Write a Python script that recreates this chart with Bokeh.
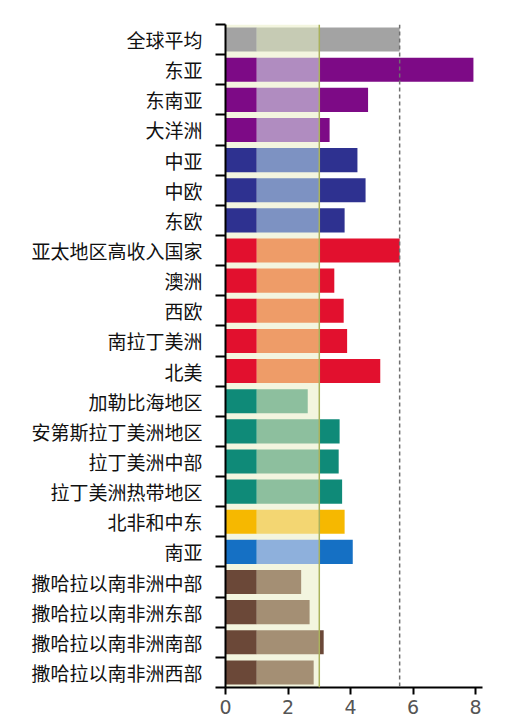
import numpy as np
from bokeh.models import ColumnDataSource, FixedTicker, Range1d, Span, BoxAnnotation
from bokeh.plotting import figure
from bokeh.embed import file_html
from bokeh.resources import INLINE

# regions from top to bottom
regions = ['全球平均', '东亚', '东南亚', '大洋洲', '中亚', '中欧', '东欧',
           '亚太地区高收入国家', '澳洲', '西欧', '南拉丁美洲', '北美',
           '加勒比海地区', '安第斯拉丁美洲地区', '拉丁美洲中部', '拉丁美洲热带地区',
           '北非和中东', '南亚',
           '撒哈拉以南非洲中部', '撒哈拉以南非洲东部', '撒哈拉以南非洲南部', '撒哈拉以南非洲西部']
values = [5.57, 7.93, 4.56, 3.33, 4.22, 4.48, 3.81,
          5.57, 3.48, 3.78, 3.89, 4.95,
          2.63, 3.65, 3.62, 3.73,
          3.81, 4.07,
          2.42, 2.69, 3.14, 2.82]
groups = ['avg', 'purple', 'purple', 'purple', 'navy', 'navy', 'navy',
          'red', 'red', 'red', 'red', 'red',
          'teal', 'teal', 'teal', 'teal',
          'yellow', 'blue',
          'brown', 'brown', 'brown', 'brown']
x_ticks = [0, 2, 4, 6, 8]
global_avg = 5.57
threshold = 3

dark = {'avg': '#a3a3a3', 'purple': '#7d0a86', 'navy': '#2e3190', 'red': '#e2102e',
        'teal': '#0f8a78', 'yellow': '#f6b800', 'blue': '#1570c4', 'brown': '#6b4838'}
light = {'avg': '#c6cbb4', 'purple': '#b08cc0', 'navy': '#7d92c2', 'red': '#ee9c68',
         'teal': '#8dbf9e', 'yellow': '#f3d672', 'blue': '#8eb0dc', 'brown': '#a48f74'}

n = len(regions)
y = [n - i - 0.5 for i in range(n)]
vals = np.array(values)

src = ColumnDataSource(data=dict(
    y=y,
    v=values,
    d_right=np.minimum(vals, 1),
    l_right=np.minimum(vals, threshold),
    h_right=np.maximum(vals, threshold),
    dark=[dark[g] for g in groups],
    light=[light[g] for g in groups],
))

p = figure(width=502, height=720, output_backend="svg", toolbar_location=None,
           x_range=Range1d(0, 8.22), y_range=Range1d(0, n),
           min_border_left=225, min_border_right=20, min_border_top=24,
           min_border_bottom=33)

p.add_layout(BoxAnnotation(left=0, right=threshold, fill_color='#f3f5df',
                           fill_alpha=1, line_color=None, level='underlay'))

p.hbar(y='y', left=0, right='d_right', height=0.8, source=src,
       fill_color='dark', line_color=None)
p.hbar(y='y', left=1, right='l_right', height=0.8, source=src,
       fill_color='light', line_color=None)
p.hbar(y='y', left=threshold, right='h_right', height=0.8, source=src,
       fill_color='dark', line_color=None)

p.add_layout(Span(location=threshold, dimension='height',
                  line_color='#aab25c', line_width=1.5))
p.add_layout(Span(location=global_avg, dimension='height',
                  line_color='#707070', line_width=1.5, line_dash='4 3'))

# axes
p.xgrid.grid_line_color = None
p.ygrid.grid_line_color = None
p.outline_line_color = None

p.yaxis.ticker = FixedTicker(ticks=y, minor_ticks=list(range(n + 1)))
p.yaxis.major_label_overrides = {yy: r for yy, r in zip(y, regions)}
p.yaxis.major_tick_line_color = None
p.yaxis.major_tick_out = 0
p.yaxis.major_tick_in = 0
p.yaxis.minor_tick_out = 10
p.yaxis.minor_tick_in = 0
p.yaxis.minor_tick_line_color = 'black'
p.yaxis.minor_tick_line_width = 2
p.yaxis.axis_line_color = 'black'
p.yaxis.axis_line_width = 2
p.yaxis.major_label_standoff = 13
p.yaxis.major_label_text_font = 'Noto Sans CJK SC'
p.yaxis.major_label_text_font_size = '19px'
p.yaxis.major_label_text_color = '#111111'

p.xaxis.ticker = FixedTicker(ticks=x_ticks)
p.xaxis.minor_tick_line_color = None
p.xaxis.major_tick_out = 7
p.xaxis.major_tick_in = 0
p.xaxis.major_tick_line_width = 2
p.xaxis.major_tick_line_color = 'black'
p.xaxis.axis_line_color = 'black'
p.xaxis.axis_line_width = 2
p.xaxis.major_label_standoff = 5
p.xaxis.major_label_text_font = 'DejaVu Sans'
p.xaxis.major_label_text_font_size = '19px'
p.xaxis.major_label_text_color = '#555555'

open("out.html", "w").write(file_html(p, INLINE))
